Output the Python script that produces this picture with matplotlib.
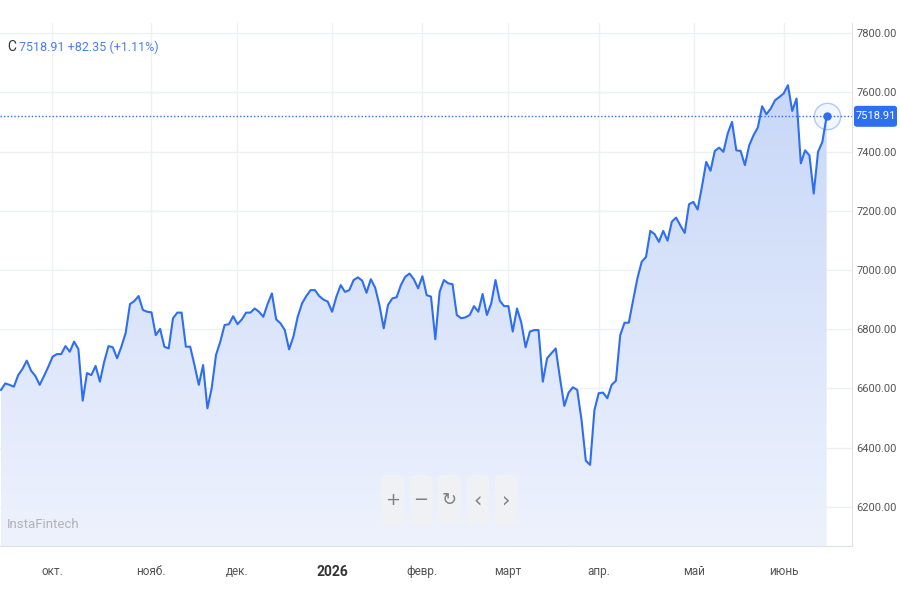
"""
Index price chart (InstaFintech style) - daily closes, Sep 2025 - Jun 2026
"""

import numpy as np
import matplotlib
matplotlib.use("Agg")
import matplotlib.pyplot as plt
from matplotlib.patches import FancyBboxPatch, PathPatch
from matplotlib.colors import LinearSegmentedColormap

plt.rcParams['font.family'] = ['Roboto', 'DejaVu Sans']

# daily closes
closes = [
    6595, 6617, 6612, 6606, 6645, 6666, 6694, 6660, 6642, 6612,
    6642, 6673, 6707, 6716, 6716, 6743, 6724, 6758, 6733, 6559,
    6652, 6645, 6676, 6623, 6690, 6743, 6739, 6702, 6741, 6788,
    6885, 6895, 6912, 6865, 6859, 6857, 6780, 6801, 6741, 6735,
    6837, 6856, 6856, 6741, 6741, 6679, 6612, 6679, 6533, 6601,
    6713, 6758, 6814, 6817, 6844, 6817, 6833, 6856, 6856, 6870,
    6859, 6842, 6885, 6921, 6833, 6820, 6797, 6732, 6775, 6842,
    6887, 6912, 6932, 6932, 6912, 6900, 6893, 6859, 6910, 6949,
    6926, 6932, 6966, 6975, 6964, 6923, 6969, 6941, 6882, 6803,
    6882, 6904, 6908, 6949, 6977, 6988, 6969, 6938, 6979, 6915,
    6910, 6766, 6926, 6966, 6955, 6952, 6848, 6837, 6840, 6848,
    6878, 6859, 6919, 6848, 6887, 6966, 6896, 6878, 6878, 6792,
    6870, 6822, 6739, 6792, 6797, 6797, 6623, 6702, 6719, 6735,
    6634, 6541, 6586, 6604, 6595, 6494, 6356, 6342, 6527, 6584,
    6586, 6567, 6612, 6626, 6780, 6822, 6822, 6898, 6972, 7028,
    7044, 7132, 7121, 7095, 7132, 7099, 7163, 7177, 7150, 7125,
    7222, 7230, 7204, 7281, 7365, 7335, 7402, 7413, 7399, 7461,
    7500, 7404, 7402, 7354, 7421, 7455, 7481, 7553, 7526, 7545,
    7573, 7584, 7596, 7624, 7537, 7579, 7360, 7404, 7387, 7258,
    7399, 7432, 7518.91,
]

month_labels = ['окт.', 'нояб.', 'дек.', '2026', 'февр.', 'март', 'апр.', 'май', 'июнь']
month_pos = [11.9, 34.9, 54.9, 77.0, 97.9, 117.9, 139.0, 161.2, 182.1]
y_ticks = [6200, 6400, 6600, 6800, 7000, 7200, 7400, 7600, 7800]

last_close = 7518.91
change = 82.35
change_pct = 1.11

BLUE = '#2e6ef0'
GRID = '#eef0f4'

x = np.arange(len(closes))
y = np.array(closes, dtype=float)

fig = plt.figure(figsize=(9, 6), dpi=100)
ax = fig.add_axes([0, 54 / 600, 852 / 900, 523 / 600])
ax.set_xlim(-0.23, 197.9)
ax.set_ylim(6068, 7834)

# gradient fill under the line
ymin = ax.get_ylim()[0]
cmap = LinearSegmentedColormap.from_list('fill', ['#eef2fd', '#c6d6f8'])
grad = np.linspace(0, 1, 256).reshape(-1, 1)
im = ax.imshow(grad, cmap=cmap, aspect='auto', origin='lower',
               extent=[x[0], x[-1], ymin, 7700], zorder=1)
poly = ax.fill_between(x, y, ymin, color='none', lw=0)
clip = PathPatch(poly.get_paths()[0], transform=ax.transData,
                 facecolor='none', edgecolor='none')
ax.add_patch(clip)
im.set_clip_path(clip)

ax.plot(x, y, color=BLUE, lw=1.5, zorder=3, solid_joinstyle='round')

# last price line + marker
ax.axhline(last_close, color=BLUE, lw=1, ls=(0, (1, 1.5)), zorder=2)
ax.plot(x[-1], y[-1], 'o', color=BLUE, ms=5, zorder=4)
ax.plot(x[-1], y[-1], 'o', ms=19, mfc=(0.18, 0.43, 0.94, 0.06),
        mec=(0.18, 0.43, 0.94, 0.35), mew=1, zorder=4)

# price tag on the right axis: work out its height in figure fraction
tag_y = fig.transFigure.inverted().transform(
    ax.transData.transform((0, last_close)))[1]
tag = FancyBboxPatch((854 / 900, tag_y - 10.5 / 600), 43 / 900, 21 / 600,
                     boxstyle='round,pad=0,rounding_size=0.004',
                     transform=fig.transFigure, fc=BLUE, ec='none', zorder=6)
fig.add_artist(tag)
fig.text(875.5 / 900, tag_y, f'{last_close:.2f}', ha='center', va='center',
         color='white', fontsize=8, zorder=7)

# axes styling
ax.set_xticks(month_pos)
ax.set_xticklabels(month_labels)
for lbl in ax.get_xticklabels():
    lbl.set_color('#555555')
    lbl.set_fontsize(8.5)
    if lbl.get_text() == '2026':
        lbl.set_fontweight('bold')
        lbl.set_color('#333333')
        lbl.set_fontsize(10)
ax.set_yticks(y_ticks)
ax.set_yticklabels([f'{v:.2f}' for v in y_ticks])
ax.yaxis.tick_right()
ax.tick_params(axis='y', length=0, pad=3, labelsize=8, labelcolor='#555555')
ax.tick_params(axis='x', length=0, pad=14)
ax.grid(True, color=GRID, lw=1, zorder=0)
ax.set_axisbelow(True)
for side in ['top', 'left']:
    ax.spines[side].set_visible(False)
ax.spines['bottom'].set_color('#dde1e8')
ax.spines['right'].set_color('#dde1e8')

# header
fig.text(7 / 900, 1 - 47 / 600, 'C', color='#333333', fontsize=10, va='center')
fig.text(19 / 900, 1 - 47 / 600,
         f'{last_close:.2f} +{change:.2f} (+{change_pct:.2f}%)',
         color='#4a7ff0', fontsize=9, va='center')

# watermark
fig.text(7 / 900, 1 - 525 / 600, 'InstaFintech', color='#b0b3b8',
         fontsize=9.5, va='center')

# zoom / navigation buttons
buttons = ['+', '−', '↻', '‹', '›']
for k, sym in enumerate(buttons):
    left = 381 + k * 28.5
    box = FancyBboxPatch((left / 900, 1 - 525 / 600), 23 / 900, 50 / 600,
                         boxstyle='round,pad=0,rounding_size=0.008',
                         transform=fig.transFigure, fc='#f1f2f5', ec='none',
                         alpha=0.9, zorder=5)
    fig.add_artist(box)
    fig.text((left + 11.5) / 900, 1 - 500 / 600, sym, color='#808080',
             fontsize=15 if sym in '‹›' else 13, ha='center', va='center',
             family=['DejaVu Sans'], zorder=6)

fig.savefig('out.png', dpi=100)
